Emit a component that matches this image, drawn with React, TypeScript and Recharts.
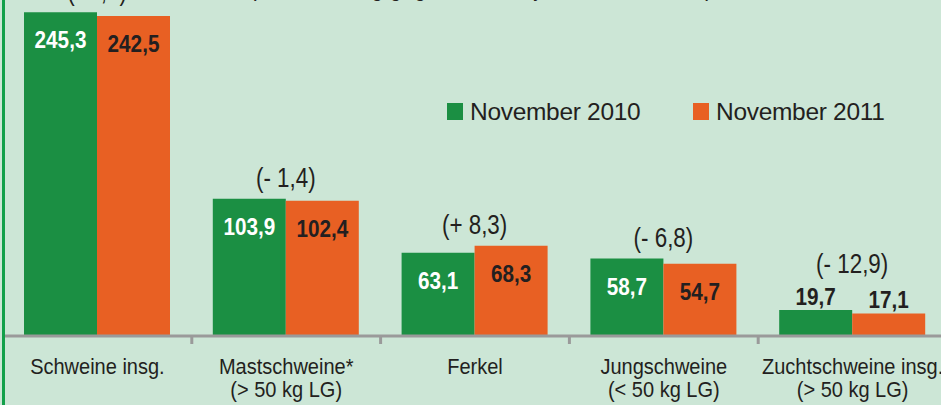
import { BarChart, Bar, XAxis, YAxis, Legend, LabelList, Customized } from 'recharts';

// Bestand an Schweinen, November 2010 vs. November 2011 (in 1 000)
const categories = [
  'Schweine insg.',
  'Mastschweine*\n(> 50 kg LG)',
  'Ferkel',
  'Jungschweine\n(< 50 kg LG)',
  'Zuchtschweine insg.\n(> 50 kg LG)',
];
const nov2010 = [245.3, 103.9, 63.1, 58.7, 19.7];
const nov2011 = [242.5, 102.4, 68.3, 54.7, 17.1];
const changes = ['(- 1,1)', '(- 1,4)', '(+ 8,3)', '(- 6,8)', '(- 12,9)'];
const seriesNames = ['November 2010', 'November 2011'];
const title = '(Veränderung gegenüber Vorjahresmonat in %)';

const GREEN = '#1b8f43';
const ORANGE = '#e86023';
const BG = '#cce6d6';
const INK = '#231f20';
const AXIS = '#9a9a9a';
const FONT = '"Liberation Sans", Arial, sans-serif';

const W = 950;
const H = 405;
const MARGIN = { top: 6, right: 3, bottom: 0, left: 3 };
const AXIS_Y = 336;
const BAND = (W - MARGIN.left - MARGIN.right) / categories.length;

const data = categories.map((name, i) => ({
  name,
  a: nov2010[i],
  b: nov2011[i],
  change: changes[i],
}));

const fmt = (v: number) => v.toFixed(1).replace('.', ',');

function Squeezed({ x, y, sx, size, weight, fill, children }: any) {
  return (
    <text
      transform={`translate(${x},${y}) scale(${sx},1)`}
      textAnchor="middle"
      fontFamily={FONT}
      fontSize={size}
      fontWeight={weight || 'normal'}
      fill={fill || INK}
    >
      {children}
    </text>
  );
}

const valueLabel = (insideColor: string) => (props: any) => {
  const { x, y, width, height, value } = props;
  const inside = height > 50;
  return (
    <Squeezed
      x={x + width / 2}
      y={inside ? y + 36 : y - 5}
      sx={0.9}
      size={23}
      weight="bold"
      fill={inside ? insideColor : INK}
    >
      {fmt(Number(value))}
    </Squeezed>
  );
};

// change label sits above the taller bar of each pair
const changeLabel = (props: any) => {
  const { x, y, width, height, index, value } = props;
  const a = nov2010[index];
  const b = nov2011[index];
  const k = height / a;
  const base = y + height;
  const top = base - Math.max(a, b) * k;
  const lowH = Math.min(a, b) * k;
  const yy = lowH > 50 ? top - 12 : top - 37;
  return (
    <Squeezed x={x + width} y={yy} sx={0.8} size={28}>
      {value}
    </Squeezed>
  );
};

function CategoryTick(props: any) {
  const { x, payload, index } = props;
  const lines = String(payload.value).split('\n');
  return (
    <g>
      {index < categories.length - 1 && (
        <line x1={x + BAND / 2} x2={x + BAND / 2} y1={AXIS_Y} y2={AXIS_Y + 8} stroke={AXIS} strokeWidth={3} />
      )}
      {lines.map((l, j) => (
        <Squeezed key={j} x={x} y={374 + j * 23} sx={0.91} size={22}>
          {l}
        </Squeezed>
      ))}
    </g>
  );
}

function LegendBox() {
  const colors = [GREEN, ORANGE];
  return (
    <div style={{ display: 'flex', fontFamily: FONT, fontSize: 24.5, lineHeight: '26px', color: INK }}>
      {seriesNames.map((n, i) => (
        <div key={n} style={{ display: 'flex', alignItems: 'flex-start', width: 246 }}>
          <span style={{ width: 16, height: 17, marginTop: 4, marginRight: 7, background: colors[i] }} />
          <span style={{ letterSpacing: -0.3 }}>{n}</span>
        </div>
      ))}
    </div>
  );
}

export default function App() {
  return (
    <div style={{ position: 'absolute', left: 0, top: 0, width: 941, height: 405, overflow: 'hidden', background: BG }}>
      <BarChart width={W} height={H} data={data} margin={MARGIN} barCategoryGap={21} barGap={0}>
        <XAxis
          dataKey="name"
          height={H - AXIS_Y}
          axisLine={{ stroke: AXIS, strokeWidth: 3 }}
          tickLine={false}
          tick={<CategoryTick />}
          interval={0}
        />
        <YAxis hide domain={[0, 250]} />
        <Legend
          layout="horizontal"
          verticalAlign="middle"
          align="center"
          wrapperStyle={{ top: 99, left: 447, width: 'auto' }}
          content={() => <LegendBox />}
        />
        <Bar dataKey="a" name={seriesNames[0]} fill={GREEN} isAnimationActive={false}>
          <LabelList dataKey="a" content={valueLabel('#ffffff')} />
          <LabelList dataKey="change" content={changeLabel} />
        </Bar>
        <Bar dataKey="b" name={seriesNames[1]} fill={ORANGE} isAnimationActive={false}>
          <LabelList dataKey="b" content={valueLabel(INK)} />
        </Bar>
        <Customized
          component={() => (
            <Squeezed x={481} y={-5} sx={0.79} size={28}>
              {title}
            </Squeezed>
          )}
        />
      </BarChart>
      <div style={{ position: 'absolute', left: 2, top: 0, width: 3, height: 405, background: '#13a04a' }} />
    </div>
  );
}
